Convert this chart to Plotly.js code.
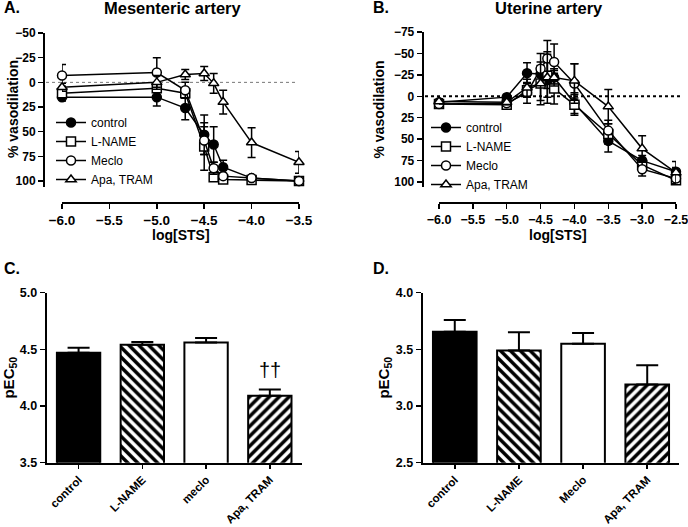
<!DOCTYPE html>
<html><head><meta charset="utf-8">
<script src="https://cdn.plot.ly/plotly-3.0.1.min.js"></script>
<style>html,body{margin:0;padding:0;background:#fff;}#chart{width:688px;height:527px;}</style>
</head><body><div id="chart"></div>
<script>
// ---------- data ----------
const doseA = [-6.0, -5.0, -4.7, -4.5, -4.4, -4.3, -4.0, -3.5];
const controlA = [15, 15, 26, 53, 63, 86, 97, 100];
const controlAerr = [4, 9, 12, 20, 18, 7, 2, 1];
const lnameA = [11, 6, 11, 65, 96, 98.5, 99, 100];
const lnameAerr = [4, 4, 5, 24, 3, 2, 1, 1];
const mecloA = [-7, -10, 8, 59, 87, 95, 97, 100];
const mecloAerr = [11, 15, 8, 14, 6, 3, 2, 1];
const apaA = [5, 0, -8, -9, 1, 20, 61, 81];
const apaAerr = [4, 7, 5, 7, 10, 12, 15, 11];

const doseB = [-6.0, -5.0, -4.7, -4.5, -4.4, -4.3, -4.0, -3.5, -3.0, -2.5];
const controlB = [7, 1, -27, -26, -19, -22, 8, 52, 75, 88];
const controlBerr = [3, 3, 12, 10, 10, 8, 12, 13, 6, 5];
const lnameB = [9, 10, -7, -15, -24, -9, 10, 44, 80, 98];
const lnameBerr = [3, 3, 8, 20, 25, 18, 12, 12, 8, 4];
const mecloB = [9, 8, -4, -32, -44, -40, -15, 40, 85, 96];
const mecloBerr = [3, 3, 12, 18, 21, 21, 23, 12, 8, 3];
const apaB = [6, 7, -10, -15, -22, -22, -18, 12, 61, 89];
const apaBerr = [3, 3, 10, 25, 30, 10, 20, 20, 15, 13];

const seriesNames = ['control', 'L-NAME', 'Meclo', 'Apa, TRAM'];

const barCatsC = ['control', 'L-NAME', 'meclo', 'Apa, TRAM'];
const barValsC = [4.47, 4.54, 4.56, 4.09];
const barErrC = [0.045, 0.025, 0.04, 0.055];
const barCatsD = ['control', 'L-NAME', 'Meclo', 'Apa, TRAM'];
const barValsD = [3.655, 3.49, 3.55, 3.19];
const barErrD = [0.105, 0.16, 0.095, 0.17];

const ticksA = [-50, -25, 0, 25, 50, 75, 100];
const ticksB = [-75, -50, -25, 0, 25, 50, 75, 100];
const xticksA = [-6.0, -5.5, -5.0, -4.5, -4.0, -3.5];
const xticksB = [-6.0, -5.5, -5.0, -4.5, -4.0, -3.5, -3.0, -2.5];

// ---------- helpers ----------
const W = 688, H = 527;
const fx = p => p / W;
const fy = p => 1 - p / H;
const FONT = '"Liberation Sans", Arial, sans-serif';

const symbols = ['circle', 'square', 'circle', 'triangle-up'];
const fills = ['#000', '#fff', '#fff', '#fff'];

function lineTraces(x, ys, errs, xa, ya, lg) {
  return ys.map((y, i) => ({
    type: 'scatter', mode: 'lines+markers', name: seriesNames[i],
    x: x, y: y, xaxis: xa, yaxis: ya, legend: lg, cliponaxis: false,
    line: {color: '#000', width: 1.5},
    marker: {symbol: symbols[i], size: 9, color: fills[i], line: {color: '#000', width: 1.5}},
    error_y: {type: 'data', array: errs[i], visible: true, color: '#000', thickness: 1.5, width: 4}
  }));
}

const data = [
  ...lineTraces(doseA, [controlA, lnameA, mecloA, apaA], [controlAerr, lnameAerr, mecloAerr, apaAerr], 'x', 'y', 'legend'),
  ...lineTraces(doseB, [controlB, lnameB, mecloB, apaB], [controlBerr, lnameBerr, mecloBerr, apaBerr], 'x2', 'y2', 'legend2'),
];

const barFills = ['#000', '#fff', '#fff', '#fff'];
const barPatterns = ['', '\\', '', '/'];
function barTraces(cats, vals, errs, xa, ya) {
  return cats.map((c, i) => {
    const t = {
      type: 'bar', x: [c], y: [vals[i]], xaxis: xa, yaxis: ya, width: 0.68, showlegend: false,
      marker: {color: barFills[i], line: {color: '#000', width: 2}},
      error_y: {type: 'data', array: [errs[i]], arrayminus: [0], symmetric: false, visible: true,
                color: '#000', thickness: 2, width: 11}
    };
    if (barPatterns[i]) {
      t.marker.pattern = {shape: barPatterns[i], fgcolor: '#000', bgcolor: '#fff', size: 7, solidity: 0.5, fillmode: 'replace'};
    }
    return t;
  });
}
data.push(...barTraces(barCatsC, barValsC, barErrC, 'x3', 'y3'));
data.push(...barTraces(barCatsD, barValsD, barErrD, 'x4', 'y4'));

const tickF = s => ({family: FONT, size: s, color: '#000', weight: 'bold'});
const titleF = s => ({family: FONT, size: s, color: '#000', weight: 'bold'});

const commonAx = {showline: true, linecolor: '#000', linewidth: 2, ticks: 'outside', tickcolor: '#000',
  tickwidth: 1.5, ticklen: 5, showgrid: false, zeroline: false, fixedrange: true, ticklabeloverflow: 'allow'};

const layout = {
  width: W, height: H, margin: {l: 0, r: 0, t: 0, b: 0},
  paper_bgcolor: '#fff', plot_bgcolor: 'rgba(0,0,0,0)',
  barmode: 'overlay',
  font: {family: FONT, color: '#000'},
  xaxis: Object.assign({}, commonAx, {domain: [fx(62), fx(299)], range: [-6.0001, -3.4999], anchor: 'free', position: fy(203),
    tickvals: xticksA, tickformat: '.1f', tickfont: tickF(13.5)}),
  yaxis: Object.assign({}, commonAx, {domain: [fy(187), fy(33)], range: [106, -50], anchor: 'free', position: fx(44),
    tickvals: ticksA, tickfont: tickF(12)}),
  xaxis2: Object.assign({}, commonAx, {domain: [fx(439), fx(676)], range: [-6.0001, -2.4999], anchor: 'free', position: fy(203),
    tickvals: xticksB, tickformat: '.1f', tickfont: tickF(12.5)}),
  yaxis2: Object.assign({}, commonAx, {domain: [fy(187), fy(32)], range: [105.8, -75], anchor: 'free', position: fx(422.7),
    tickvals: ticksB, tickfont: tickF(12),
    title: {text: '% vasodilation', font: titleF(14), standoff: 5}}),
  xaxis3: Object.assign({}, commonAx, {domain: [fx(46.7), fx(301.7)], range: [-0.5, 3.5], anchor: 'y3', type: 'category',
    ticklen: 4, tickangle: -45, tickfont: tickF(11.5)}),
  yaxis3: Object.assign({}, commonAx, {domain: [fy(462.7), fy(292.7)], range: [3.5, 5.0], anchor: 'x3',
    tickvals: [3.5, 4.0, 4.5, 5.0], tickformat: '.1f', tickfont: tickF(12.5),
    title: {text: 'pEC<sub>50</sub>', font: titleF(15), standoff: 2}}),
  xaxis4: Object.assign({}, commonAx, {domain: [fx(422.7), fx(679.3)], range: [-0.5, 3.5], anchor: 'y4', type: 'category',
    ticklen: 4, tickangle: -45, tickfont: tickF(11.5)}),
  yaxis4: Object.assign({}, commonAx, {domain: [fy(462.7), fy(292.7)], range: [2.5, 4.0], anchor: 'x4',
    tickvals: [2.5, 3.0, 3.5, 4.0], tickformat: '.1f', tickfont: tickF(12.5),
    title: {text: 'pEC<sub>50</sub>', font: titleF(15), standoff: 3}}),
  legend: {x: fx(51), y: fy(108), xanchor: 'left', yanchor: 'top', bgcolor: 'rgba(0,0,0,0)',
    font: {family: FONT, size: 12, color: '#000'}, tracegroupgap: 0},
  legend2: {x: fx(426), y: fy(113), xanchor: 'left', yanchor: 'top', bgcolor: 'rgba(0,0,0,0)',
    font: {family: FONT, size: 12, color: '#000'}, tracegroupgap: 0},
  shapes: [
    {type: 'line', xref: 'paper', yref: 'y', x0: fx(46), x1: fx(298), y0: 0, y1: 0,
     line: {color: '#777', width: 1, dash: 'dot'}, layer: 'below'},
    {type: 'line', xref: 'paper', yref: 'y2', x0: fx(425), x1: fx(683), y0: 0, y1: 0,
     line: {color: '#000', width: 2, dash: 'dot'}, layer: 'below'}
  ],
  annotations: [
    {text: 'A.', x: fx(2), y: fy(8), xref: 'paper', yref: 'paper', xanchor: 'left', yanchor: 'middle', showarrow: false, font: titleF(16)},
    {text: 'Mesenteric artery', x: fx(172), y: fy(8), xref: 'paper', yref: 'paper', xanchor: 'center', yanchor: 'middle', showarrow: false, font: titleF(16.5)},
    {text: 'B.', x: fx(371), y: fy(8), xref: 'paper', yref: 'paper', xanchor: 'left', yanchor: 'middle', showarrow: false, font: titleF(16)},
    {text: 'Uterine artery', x: fx(549), y: fy(8), xref: 'paper', yref: 'paper', xanchor: 'center', yanchor: 'middle', showarrow: false, font: titleF(16.5)},
    {text: 'C.', x: fx(2), y: fy(269), xref: 'paper', yref: 'paper', xanchor: 'left', yanchor: 'middle', showarrow: false, font: titleF(16)},
    {text: 'D.', x: fx(371), y: fy(269), xref: 'paper', yref: 'paper', xanchor: 'left', yanchor: 'middle', showarrow: false, font: titleF(16)},
    {text: '% vasodilation', x: fx(13), y: fy(109), xref: 'paper', yref: 'paper', xanchor: 'center', yanchor: 'middle', textangle: -90, showarrow: false, font: titleF(14)},
    {text: 'log[STS]', x: fx(180.5), y: fy(235), xref: 'paper', yref: 'paper', xanchor: 'center', yanchor: 'middle', showarrow: false, font: titleF(14)},
    {text: 'log[STS]', x: fx(557.5), y: fy(235), xref: 'paper', yref: 'paper', xanchor: 'center', yanchor: 'middle', showarrow: false, font: titleF(14)},
    {text: '††', x: 'Apa, TRAM', y: 4.32, xref: 'x3', yref: 'y3', xanchor: 'center', yanchor: 'middle', showarrow: false,
     font: {family: FONT, size: 20, color: '#000'}}
  ]
};

Plotly.newPlot('chart', data, layout, {staticPlot: true, displayModeBar: false});
</script>
</body></html>
